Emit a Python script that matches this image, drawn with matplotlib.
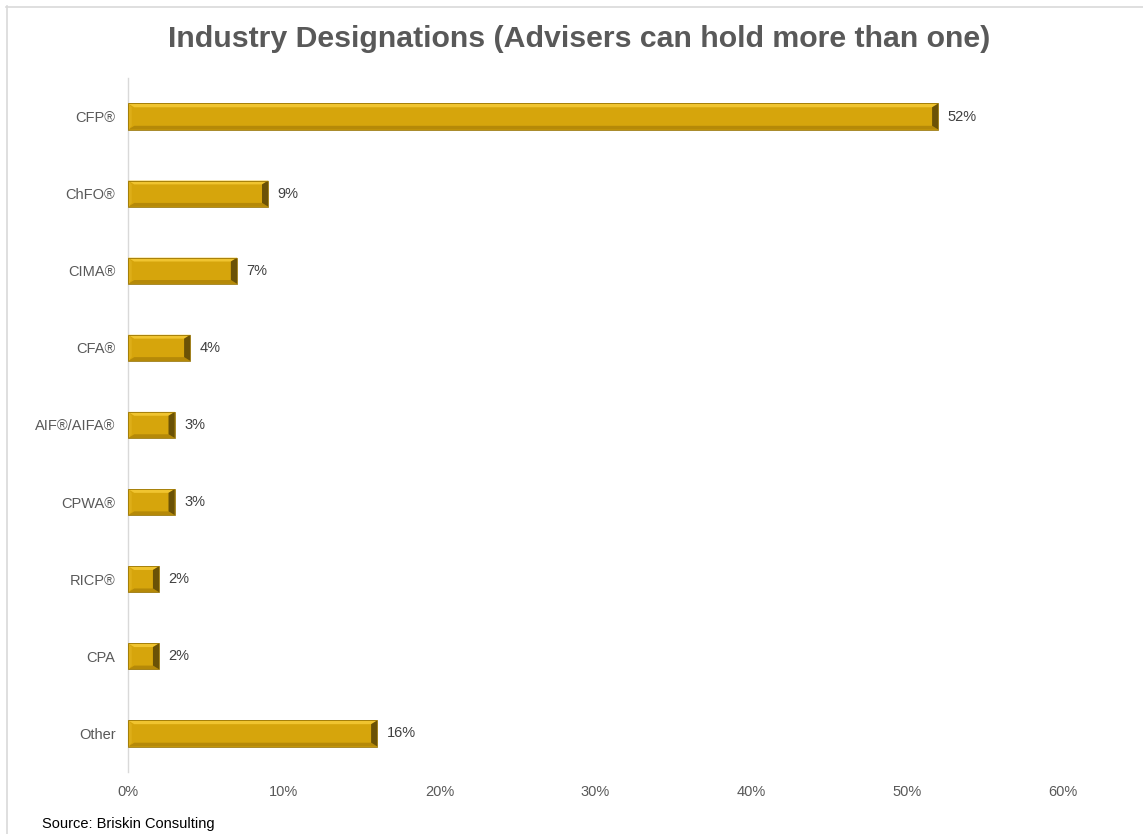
import matplotlib
matplotlib.use("Agg")
import matplotlib.pyplot as plt
from matplotlib.patches import Polygon
from matplotlib.lines import Line2D

categories = ["CFP®", "ChFO®", "CIMA®", "CFA®", "AIF®/AIFA®", "CPWA®", "RICP®", "CPA", "Other"]
values = [52, 9, 7, 4, 3, 3, 2, 2, 16]
xticks = [0, 10, 20, 30, 40, 50, 60]
xticklabels = ["0%", "10%", "20%", "30%", "40%", "50%", "60%"]
title = "Industry Designations (Advisers can hold more than one)"
source = "Source: Briskin Consulting"

plt.rcParams['font.family'] = ['Liberation Sans', 'DejaVu Sans']

fig = plt.figure(figsize=(11.43, 8.34), dpi=100)
ax = fig.add_axes([128/1143, 1-772/834, (1063-128)/1143, (772-78)/834])

ys = list(range(len(categories)))
h = 0.34
main_c = "#D6A50C"
ax.barh(ys, values, height=h, color=main_c, edgecolor="none", zorder=2)

dx = 0.40
dy = 0.05
for y, v in zip(ys, values):
    yt = y - h/2  # visually top (axis inverted)
    yb = y + h/2
    x0, x1 = 0, v
    # top bevel (light)
    ax.add_patch(Polygon([(x0, yt), (x1, yt), (x1-dx, yt+dy), (x0+dx, yt+dy)],
                         closed=True, facecolor="#F0C430", edgecolor="none", zorder=3))
    # bottom bevel (darker)
    ax.add_patch(Polygon([(x0, yb), (x1, yb), (x1-dx, yb-dy), (x0+dx, yb-dy)],
                         closed=True, facecolor="#B58908", edgecolor="none", zorder=3))
    # left bevel
    ax.add_patch(Polygon([(x0, yt), (x0+dx*0.6, yt+dy), (x0+dx*0.6, yb-dy), (x0, yb)],
                         closed=True, facecolor="#DDAE18", edgecolor="none", zorder=3))
    # right bevel (dark)
    ax.add_patch(Polygon([(x1, yt), (x1-dx, yt+dy), (x1-dx, yb-dy), (x1, yb)],
                         closed=True, facecolor="#6B5206", edgecolor="none", zorder=3))
    # outline
    ax.add_patch(Polygon([(x0, yt), (x1, yt), (x1, yb), (x0, yb)], closed=True,
                         facecolor="none", edgecolor="#9A7606", linewidth=0.6, zorder=4))
    ax.text(v + 0.6, y, f"{v}%", va="center", ha="left", fontsize=10.5, color="#404040")

ax.set_xlim(0, 60)
ax.set_ylim(len(categories) - 0.5, -0.5)
ax.set_xticks(xticks)
ax.set_xticklabels(xticklabels)
ax.set_yticks(ys)
ax.set_yticklabels(categories)
ax.tick_params(axis="x", length=0, pad=9, labelsize=10.5, labelcolor="#595959")
ax.tick_params(axis="y", length=0, pad=9, labelsize=10.5, labelcolor="#595959")
for s in ["top", "right", "bottom"]:
    ax.spines[s].set_visible(False)
ax.spines["left"].set_color("#D9D9D9")
ax.spines["left"].set_linewidth(1.0)

fig.text(579/1143, 1-39/834, title, ha="center", va="center", fontsize=21.8,
         fontweight="bold", color="#595959")
fig.text(42/1143, 1-824/834, source, ha="left", va="center", fontsize=10.5, color="#000000")

# outer frame lines (top and left)
fig.add_artist(Line2D([6/1143, 1], [1-6.5/834, 1-6.5/834], color="#D9D9D9", linewidth=1.2,
                      transform=fig.transFigure))
fig.add_artist(Line2D([6.5/1143, 6.5/1143], [0, 1-6/834], color="#D9D9D9", linewidth=1.2,
                      transform=fig.transFigure))

fig.savefig("out.png", dpi=100, facecolor="white")
